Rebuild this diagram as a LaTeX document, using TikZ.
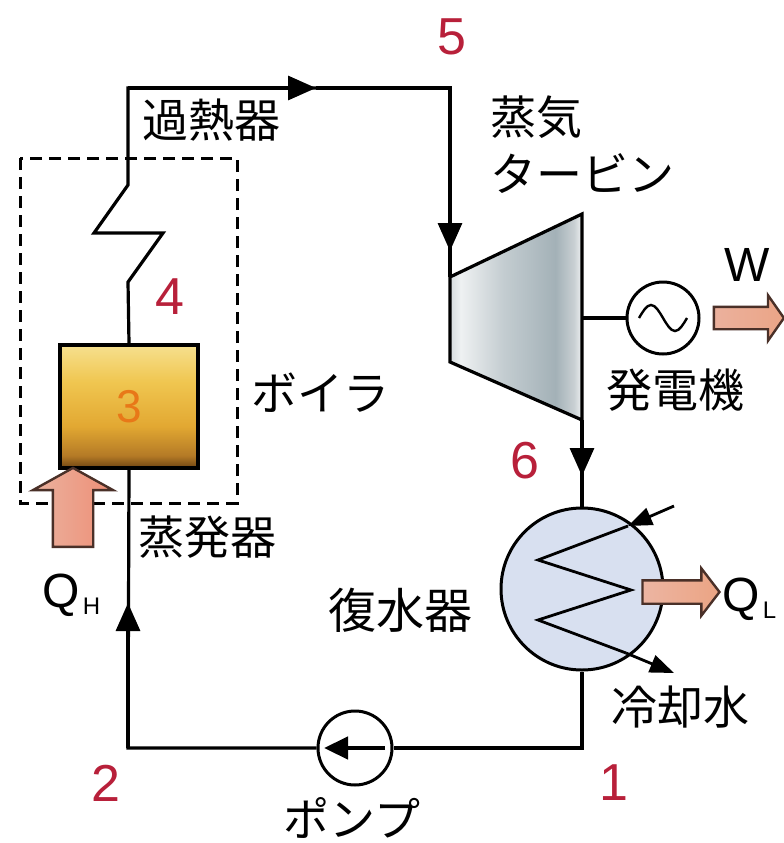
\documentclass[tikz,border=0pt]{standalone}
\usepackage{fontspec}
\setmainfont{Liberation Sans}
\newfontfamily\jpfont{Noto Sans CJK JP}
\usetikzlibrary{arrows.meta,shapes.arrows,calc}

\definecolor{statered}{HTML}{B8203A}
\definecolor{heatfill}{HTML}{E9A892}
\definecolor{heatedge}{HTML}{4A3028}
\definecolor{condfill}{HTML}{D8E0F0}
\definecolor{numorange}{HTML}{E87818}
\definecolor{tbEdge}{HTML}{D6DCDE}
\definecolor{tbLight}{HTML}{EEF1F2}
\definecolor{tbMid}{HTML}{C4CDD1}
\definecolor{tbDark}{HTML}{A3B1B7}
\definecolor{tbRim}{HTML}{C9D0D3}
\definecolor{evTop}{HTML}{F6E08E}
\definecolor{evUp}{HTML}{F0C650}
\definecolor{evMid}{HTML}{E2A832}
\definecolor{evLow}{HTML}{B47A26}
\definecolor{evBot}{HTML}{6E4412}

% steam turbine body: light edge, grey middle, lighter rim on the right
\pgfdeclarehorizontalshading{turbineshade}{100bp}{
  color(0bp)=(tbEdge);
  color(25bp)=(tbEdge);
  color(29bp)=(tbLight);
  color(45bp)=(tbMid);
  color(65bp)=(tbDark);
  color(72bp)=(tbRim);
  color(75bp)=(tbLight);
  color(100bp)=(tbLight)}

% evaporator drum: pale yellow top to brown bottom
\pgfdeclareverticalshading{evapshade}{100bp}{
  color(0bp)=(evBot);
  color(25bp)=(evBot);
  color(30bp)=(evLow);
  color(42bp)=(evMid);
  color(60bp)=(evUp);
  color(75bp)=(evTop);
  color(100bp)=(evTop)}

\tikzset{
  flow/.style={line width=3.2pt, line join=miter},
  flowtip/.style={flow, -{Triangle[length=28pt,width=24pt]}},
  jp/.style={font=\jpfont\fontsize{46}{50}\selectfont, inner sep=0pt},
  statenum/.style={font=\fontsize{52}{56}\selectfont, text=statered, inner sep=0pt},
  latin/.style={font=\fontsize{48}{52}\selectfont, inner sep=0pt},
  subscr/.style={font=\fontsize{24}{24}\selectfont, inner sep=0pt},
  heatarrow/.style={single arrow, draw=heatedge, fill=heatfill, line width=2.4pt,
    inner xsep=0pt, single arrow head indent=0pt},
  machine/.style={circle, draw, line width=3pt, inner sep=0pt}
}

\begin{document}
\begin{tikzpicture}[x=1pt,y=-1pt]
\useasboundingbox (0,0) rectangle (784,843);
\fill[white] (0,0) rectangle (784,843);

% boiler envelope
\draw[line width=3pt, dash pattern=on 12pt off 7pt] (20,158) rectangle (237,503);

% evaporator
\node[draw, line width=3.2pt, shading=evapshade, minimum width=138pt,
      minimum height=123pt, inner sep=0pt] (evap) at (129,406.5) {};
\node[font=\fontsize{46}{50}\selectfont, text=numorange, inner sep=0pt] (n3) at (evap.center) {3};

% turbine casing
\coordinate (tin)   at (450,277);
\coordinate (ttopr) at (582,214);
\coordinate (tout)  at (582,420);
\coordinate (tbotl) at (450,362);
\coordinate (tshaft) at (582,318);
\draw[line width=3.2pt, line join=miter, shading=turbineshade]
  (tin) -- (ttopr) -- (tout) -- (tbotl) -- cycle;

% generator
\node[machine, minimum size=72pt] (gen) at (663,318) {};
\draw[flow] (tshaft) -- (gen.west);
\draw[line width=2.4pt]
  ($(gen.center)+(-24,0)$) sin ($(gen.center)+(-12,-13)$) cos (gen.center)
  sin ($(gen.center)+(12,13)$) cos ($(gen.center)+(24,0)$);
\node[heatarrow, minimum height=70pt, inner ysep=10pt,
      single arrow head extend=11.5pt, single arrow tip angle=110,
      shading=axis, left color=heatfill!90!white, right color=heatfill!92!orange]
      (warrow) at (745,318) {};

% condenser
\node[machine, fill=condfill, minimum size=162pt] (cond) at (582,589) {};
\coordinate (z1) at ($(cond.center)+(46,-63)$);
\coordinate (z2) at ($(cond.center)+(-44,-29)$);
\coordinate (z3) at ($(cond.center)+(49,1)$);
\coordinate (z4) at ($(cond.center)+(-44,31)$);
\coordinate (z5) at ($(cond.center)+(44,64)$);
\coordinate (cwin)  at (674,506);
\coordinate (cwout) at (674,673);
\draw[line width=2.8pt, line join=miter] (z1) -- (z2) -- (z3) -- (z4) -- (z5);
\draw[line width=2.8pt, -{Triangle[length=24pt,width=18pt]}] (z5) -- (cwout);
\draw[line width=2.8pt, -{Triangle[length=24pt,width=18pt]}] (cwin) -- (z1);
\node[heatarrow, minimum height=77pt, inner ysep=10.5pt,
      single arrow head extend=12pt, single arrow tip angle=105,
      shading=axis, left color=heatfill!85!white, right color=heatfill!90!orange]
      (qlarrow) at (676.5,592) {};

% pump
\node[machine, minimum size=74pt] (pump) at (355,748) {};
\draw[line width=4.5pt, -{Triangle[length=24pt,width=22pt]}]
  ($(pump.center)+(30,0)$) -- ($(pump.center)+(-31,0)$);

% heat input
\node[heatarrow, minimum height=79pt, inner ysep=19pt,
      single arrow head extend=20pt, single arrow tip angle=122, rotate=90,
      shading=axis, shading angle=90, left color=heatfill!88!white, right color=heatfill!85!red!95!orange]
      (qharrow) at (73,513) {};

% working-fluid loop
\coordinate (s1) at (128,282);
\coordinate (s2) at (163,233);
\coordinate (s3) at (94,233);
\coordinate (s4) at (128,185);
\coordinate (c5l) at (128,88);
\coordinate (c5)  at (450,88);
\coordinate (a5)  at (316,88);
\coordinate (a55) at (450,251);
\coordinate (a6)  at (582,476);
\coordinate (p1)  at (582,748);
\coordinate (p2)  at (128,748);
\coordinate (a2)  at (128,603);

\draw[flow] (evap.north) -- (s1) -- (s2) -- (s3) -- (s4) -- (c5l) -- (a5);
\draw[flowtip] (c5l) -- (a5);
\draw[flow] (a5) -- (c5) -- (tin);
\draw[flowtip] (c5) -- (a55);
\draw[flow] (tout) -- (cond.north);
\draw[flowtip] (tout) -- (a6);
\draw[flow] (cond.south) -- (p1) -- (pump.east);
\draw[flow] (pump.west) -- (p2) -- (evap.south);
\draw[flowtip] (p2) -- (a2);

% state points
\node[statenum] (st5) at (452,37) {5};
\node[statenum] (st4) at (170,297) {4};
\node[statenum] (st6) at (525,461) {6};
\node[statenum] (st1) at (614,783) {1};
\node[statenum] (st2) at (106,783) {2};

% labels
\node[jp] (lsh)   at (211,120) {過熱器};
\node[jp, align=left, anchor=west, font=\jpfont\fontsize{46}{57}\selectfont] (lturb) at (490,145) {蒸気\\タービン};
\node[jp] (lboil) at (320,393) {ボイラ};
\node[jp] (levap) at (207,537) {蒸発器};
\node[jp] (lgen)  at (675,390) {発電機};
\node[jp, font=\jpfont\fontsize{48}{52}\selectfont] (lcond) at (400,610) {復水器};
\node[jp] (lcw)   at (680,707) {冷却水};
\node[jp] (lpump) at (352,818) {ポンプ};
\node[latin] (lw) at (747,265) {W};
\node[latin, anchor=base west] (lqh) at (42,607) {Q};
\node[subscr, anchor=base west] (lqhs) at (lqh.base east) [yshift=-7pt, xshift=3pt] {H};
\node[latin, anchor=base west] (lql) at (722,611) {Q};
\node[subscr, anchor=base west] (lqls) at (lql.base east) [yshift=-7pt, xshift=3pt] {L};
\end{tikzpicture}
\end{document}
